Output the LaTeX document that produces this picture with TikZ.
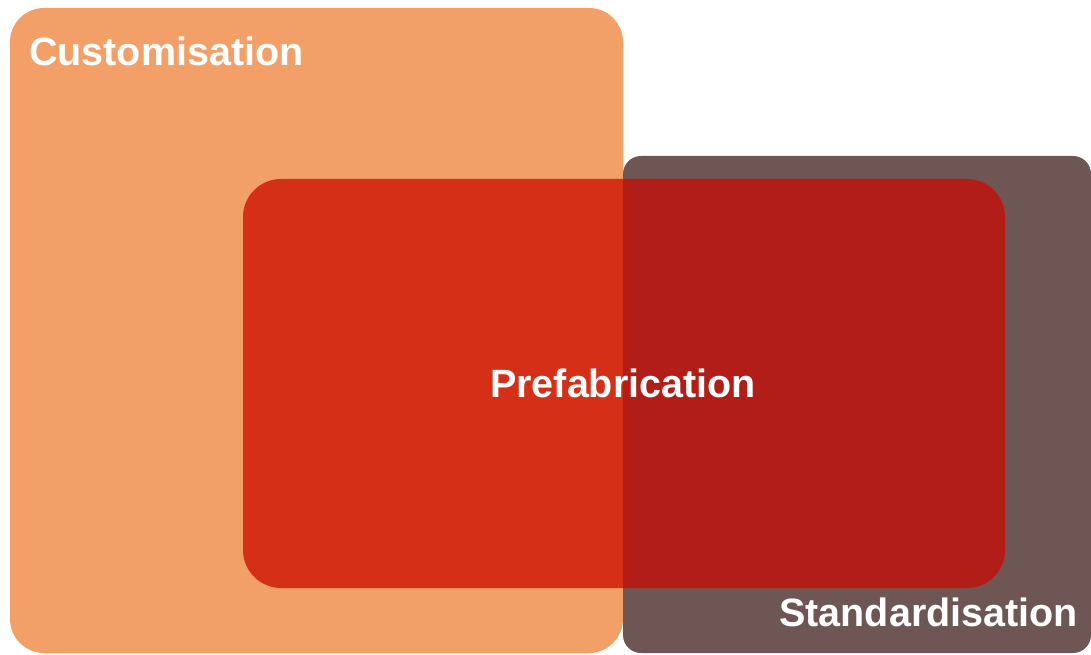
\documentclass[tikz,border=0pt]{standalone}
\usepackage{fontspec}
\setmainfont{Liberation Sans}
\definecolor{custom}{HTML}{F2A068}
\definecolor{standard}{HTML}{6D5654}
\definecolor{prefab}{HTML}{D52F17}
\definecolor{prefabdark}{HTML}{B21E17}
\begin{document}
\begin{tikzpicture}[x=1pt,y=-1pt,
  panel/.style={draw=none, inner sep=0pt, outer sep=0pt, anchor=north west},
  label/.style={text=white, font=\fontsize{39.5}{44}\selectfont\bfseries, inner sep=0pt}]
  \useasboundingbox (0,0) rectangle (1091,655);
  % Customisation panel
  \node[panel, fill=custom, rounded corners=34pt, minimum width=613pt, minimum height=645pt] (cust) at (10,8) {};
  % Standardisation panel
  \node[panel, fill=standard, rounded corners=18pt, minimum width=468pt, minimum height=497pt] (std) at (623,156) {};
  % Prefabrication panel, darker where it sits over Standardisation
  \node[panel, fill=prefab, rounded corners=38pt, minimum width=762pt, minimum height=409pt] (pre) at (243,179) {};
  \begin{scope}
    \clip (std.north west) rectangle (std.south east);
    \fill[prefabdark, rounded corners=38pt] (pre.north west) rectangle (pre.south east);
  \end{scope}
  % Labels
  \node[label, anchor=base west] (tc) at (29,66) {Customisation};
  \node[label] (tp) at (623,383) {Prefabrication};
  \node[label, anchor=base east] (ts) at (1078,626) {Standardisation};
\end{tikzpicture}
\end{document}
